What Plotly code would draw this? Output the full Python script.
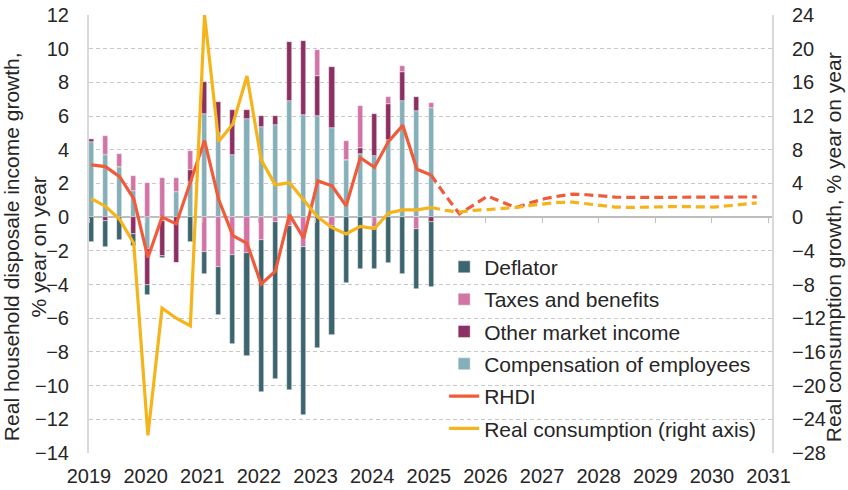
import plotly.graph_objects as go
import pandas as pd

# ---------------- data ----------------
hist_quarters = [str(p) for p in pd.period_range("2019Q1", "2025Q1", freq="Q")]
fcst_quarters = [str(p) for p in pd.period_range("2025Q1", "2030Q4", freq="Q")]

compensation = [4.45, 3.7, 2.95, 1.55, -1.9, -0.25, 1.5, 2.1, 6.1, 5.0, 3.7, 5.85, 5.35,
                5.5, 6.9, 6.05, 6.0, 5.3, 3.4, 3.75, 3.65, 4.6, 6.9, 6.3, 6.5]
other_market = [0.2, -0.2, 0.0, -1.0, -2.1, -2.05, -2.7, 0.7, 1.9, 1.85, 2.65, 0.5, 0.65,
                0.5, 3.5, 4.4, 2.35, 3.6, 0.0, 0.35, 2.5, 2.1, 1.7, 0.85, -0.3]
taxes_benefits = [0.0, 1.1, 0.8, 0.9, 2.05, 2.35, 0.85, 1.15, -2.05, -2.95, -2.25, -2.15, -1.35,
                  -0.3, -0.5, -1.75, 1.6, -0.55, 1.1, 2.5, -0.6, 0.45, 0.4, -0.7, 0.25]
deflator = [-1.5, -1.55, -1.35, -0.7, -0.6, -0.15, -0.05, -1.5, -1.3, -2.85, -5.25, -6.1, -9.05,
            -9.3, -9.75, -10.0, -7.75, -6.45, -3.9, -3.05, -2.45, -2.7, -3.35, -3.55, -3.85]

rhdi_hist = [3.1, 3.0, 2.4, 1.1, -2.4, 0.0, -0.4, 2.1, 4.55, 1.05, -1.1, -1.55, -3.98,
             -3.2, 0.15, -1.25, 2.15, 1.86, 0.67, 3.53, 2.96, 4.5, 5.45, 2.84, 2.5]
rhdi_fcst = [2.5, 1.3, 0.2, 0.75, 1.25, 0.9, 0.57, 0.85, 1.09, 1.25, 1.37, 1.33, 1.25, 1.19,
             1.17, 1.17, 1.17, 1.17, 1.18, 1.18, 1.19, 1.2, 1.2, 1.2]

cons_hist = [2.2, 1.3, -0.25, -3.1, -25.9, -10.8, -12.0, -12.9, 24.0, 8.97, 11.07, 16.76, 6.8,
             3.83, 4.1, 2.0, 0.0, -1.25, -2.0, -1.1, -1.35, 0.5, 0.87, 0.87, 1.15]
cons_fcst = [1.15, 0.8, 0.6, 0.8, 0.9, 1.0, 1.15, 1.4, 1.6, 1.75, 1.78, 1.6, 1.4, 1.2, 1.15,
             1.2, 1.25, 1.25, 1.25, 1.2, 1.2, 1.35, 1.55, 1.7]

year_ticks = list(range(2019, 2032))
left_ticks = list(range(-14, 13, 2))
right_ticks = list(range(-28, 25, 4))

left_title = "Real household disposale income growth,<br>% year on year"
right_title = "Real consumption growth, % year on year"


def to_x(q):
    y, n = q.split("Q")
    return int(y) + (int(n) - 1) * 0.25 + 0.04


xh = [to_x(q) for q in hist_quarters]
xf = [to_x(q) for q in fcst_quarters]

C_DEF = "#3d6570"
C_TAX = "#d274a6"
C_OTH = "#8c2f62"
C_COMP = "#85afb9"
C_RHDI = "#ef5b3b"
C_CONS = "#f5b41a"
FONT = "Liberation Sans, Arial, sans-serif"
TXT = "#262626"
GRID = "#c8c8c8"
AXL = "#d9d9d9"
FS = 20

fig = go.Figure()
bw = 0.09
bar_line = dict(color="rgba(255,255,255,0.7)", width=0.6)
for name, vals, col, rank in [
    ("Compensation of employees", compensation, C_COMP, 4),
    ("Other market income", other_market, C_OTH, 3),
    ("Taxes and benefits", taxes_benefits, C_TAX, 2),
    ("Deflator", deflator, C_DEF, 1),
]:
    fig.add_trace(go.Bar(x=xh, y=vals, name=name, marker=dict(color=col, line=bar_line),
                         width=bw, legendrank=rank, legendgroup=name))

fig.add_trace(go.Scatter(x=xh, y=rhdi_hist, name="RHDI", mode="lines",
                         line=dict(color=C_RHDI, width=3.2), legendrank=5, legendgroup="rhdi"))
fig.add_trace(go.Scatter(x=xf, y=rhdi_fcst, name="RHDI forecast", mode="lines",
                         line=dict(color=C_RHDI, width=3.2, dash="9px,5px"),
                         showlegend=False, legendgroup="rhdi"))
fig.add_trace(go.Scatter(x=xh, y=cons_hist, name="Real consumption (right axis)", mode="lines",
                         line=dict(color=C_CONS, width=3.2), yaxis="y2", legendrank=6,
                         legendgroup="cons"))
fig.add_trace(go.Scatter(x=xf, y=cons_fcst, name="Real consumption forecast", mode="lines",
                         line=dict(color=C_CONS, width=3.2, dash="9px,5px"), yaxis="y2",
                         showlegend=False, legendgroup="cons"))
# empty helper trace so the zero-line tick axis is rendered
fig.add_trace(go.Scatter(x=[], y=[], xaxis="x2", showlegend=False, hoverinfo="skip"))

xr = [2019, 2031.06]
fig.update_layout(
    width=848, height=490,
    margin=dict(l=89, r=76, t=15, b=37),
    paper_bgcolor="white", plot_bgcolor="white",
    barmode="relative", bargap=0,
    font=dict(family=FONT, size=FS, color=TXT),
    xaxis=dict(range=xr, tickvals=year_ticks, ticktext=[str(y) for y in year_ticks],
               showgrid=False, zeroline=False, showline=False, ticks="",
               ticklabelstandoff=9, automargin=False),
    xaxis2=dict(range=xr, overlaying="x", anchor="free", position=(14 / 26), tickvals=year_ticks,
                showticklabels=False, ticks="outside", ticklen=5, tickcolor="#bfbfbf",
                showgrid=False, zeroline=False, showline=False, automargin=False),
    yaxis=dict(range=[-14, 12], tickvals=left_ticks, showgrid=True, gridcolor=GRID,
               griddash="4px,3px", gridwidth=1, zeroline=True, zerolinecolor="#bdbdbd",
               zerolinewidth=1.5, showline=True, linecolor=AXL, linewidth=2, ticks="",
               ticklabelstandoff=14, automargin=False),
    yaxis2=dict(range=[-28, 24], tickvals=right_ticks, overlaying="y", side="right",
                showgrid=False, zeroline=False, showline=True, linecolor=AXL, linewidth=2,
                ticks="", ticklabelstandoff=14, automargin=False),
    legend=dict(x=0.52, y=0.471, xanchor="left", yanchor="top", bgcolor="rgba(0,0,0,0)",
                font=dict(size=21, color=TXT), tracegroupgap=2, itemwidth=30),
    showlegend=True,
    annotations=[
        dict(text=left_title, textangle=-90, xref="paper", yref="paper",
             x=(25 - 89) / 683, y=0.47, xanchor="center", yanchor="middle",
             showarrow=False, font=dict(size=21, color=TXT)),
        dict(text=right_title, textangle=-90, xref="paper", yref="paper",
             x=(833 - 89) / 683, y=0.47, xanchor="center", yanchor="middle",
             showarrow=False, font=dict(size=21, color=TXT)),
    ],
)

fig.write_html("out.html")
